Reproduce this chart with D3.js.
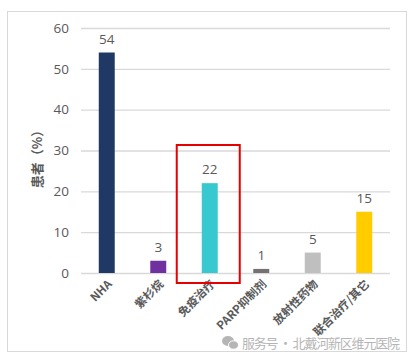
<!DOCTYPE html>
<html>
<head>
<meta charset="utf-8">
<script src="https://cdn.jsdelivr.net/npm/d3@7"></script>
<style>
  html, body { margin: 0; padding: 0; background: #fff; }
  svg { display: block; }
</style>
</head>
<body>
<svg id="chart" width="414" height="360"></svg>
<script>
// Treatment categories and share of patients (%)
const categories = ["NHA", "紫杉烷", "免疫治疗", "PARP抑制剂", "放射性药物", "联合治疗/其它"];
const values = [54, 3, 22, 1, 5, 15];
const colors = ["#203864", "#7030a0", "#38c8d0", "#767171", "#bfbfbf", "#ffcc00"];
const yTicks = [0, 10, 20, 30, 40, 50, 60];
const yTitle = "患者（%）";
const watermark = "服务号 · 北戴河新区维元医院";
const highlighted = "免疫治疗";

const svg = d3.select("#chart");
const font = "'Open Sans', 'Noto Sans CJK SC', sans-serif";
const cjk = "'Noto Sans CJK SC', 'Open Sans', sans-serif";

// outer frame
svg.append("rect")
  .attr("x", 7.5).attr("y", 11.5).attr("width", 399).attr("height", 340)
  .attr("fill", "#fff").attr("stroke", "#d9d9d9").attr("stroke-width", 1);

const plot = { left: 81, right: 390, top: 28, bottom: 273 };

const x = d3.scaleBand().domain(categories)
  .range([plot.left, plot.right]).paddingInner(0.69).paddingOuter(0.345);
const y = d3.scaleLinear().domain([0, 60]).range([plot.bottom, plot.top]);

// gridlines + tick labels
const yAxis = d3.axisLeft(y).tickValues(yTicks).tickSize(-(plot.right - plot.left)).tickPadding(12);
const gy = svg.append("g").attr("transform", `translate(${plot.left},0)`).call(yAxis);
gy.select(".domain").remove();
gy.selectAll(".tick line").attr("stroke", "#d9d9d9").attr("stroke-width", 1.3);
gy.selectAll(".tick text")
  .attr("fill", "#595959").style("font-family", font).style("font-size", "13.5px");

// bars
svg.append("g").selectAll("rect").data(categories).join("rect")
  .attr("x", d => x(d))
  .attr("width", x.bandwidth())
  .attr("y", (d, i) => y(values[i]))
  .attr("height", (d, i) => y(0) - y(values[i]))
  .attr("fill", (d, i) => colors[i]);

// value labels
svg.append("g").selectAll("text").data(categories).join("text")
  .attr("x", d => x(d) + x.bandwidth() / 2)
  .attr("y", (d, i) => y(values[i]) - 9)
  .attr("text-anchor", "middle")
  .attr("fill", "#595959")
  .style("font-family", font).style("font-size", "13.5px")
  .text((d, i) => values[i]);

// rotated category labels
svg.append("g").selectAll("text").data(categories).join("text")
  .attr("transform", d => `translate(${x(d) + x.bandwidth() / 2 + 3},${plot.bottom + 9}) rotate(-45)`)
  .attr("text-anchor", "end")
  .attr("dy", "0.35em")
  .attr("fill", "#595959")
  .style("font-family", cjk).style("font-size", "11.5px").style("font-weight", "bold")
  .text(d => d);

// y-axis title
svg.append("text")
  .attr("transform", "translate(37,156) rotate(-90)")
  .attr("text-anchor", "middle")
  .attr("dy", "0.35em")
  .attr("fill", "#595959")
  .style("font-family", cjk).style("font-size", "13px").style("font-weight", "bold")
  .text(yTitle);

// highlight box around the immunotherapy bar
const hx = x(highlighted) + x.bandwidth() / 2;
svg.append("rect")
  .attr("x", hx - 33).attr("y", 145)
  .attr("width", 63).attr("height", 138)
  .attr("fill", "none").attr("stroke", "#e60000").attr("stroke-width", 2);

// watermark with chat icon
const wm = svg.append("g").attr("fill", "#b5b5b5");
wm.append("ellipse").attr("cx", 228).attr("cy", 341).attr("rx", 6).attr("ry", 5);
wm.append("ellipse").attr("cx", 233.5).attr("cy", 345).attr("rx", 5).attr("ry", 4.2)
  .attr("stroke", "#fff").attr("stroke-width", 1);
wm.append("text")
  .attr("x", 242).attr("y", 347.5)
  .style("font-family", cjk).style("font-size", "13px")
  .attr("textLength", 158)
  .text(watermark);
</script>
</body>
</html>
